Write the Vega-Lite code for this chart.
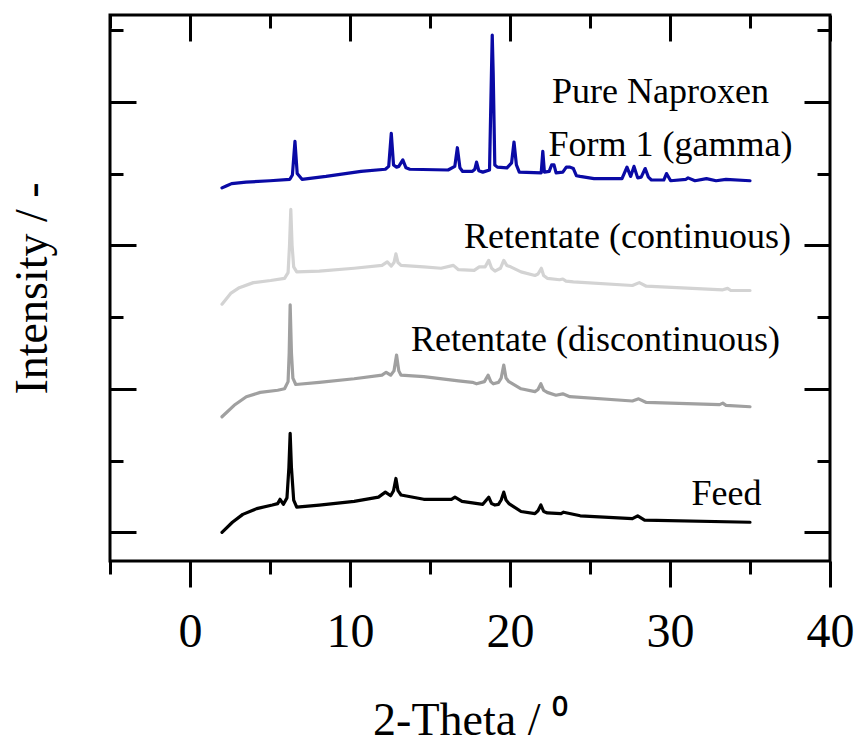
{
  "$schema": "https://vega.github.io/schema/vega-lite/v6.json",
  "width": 720,
  "height": 546,
  "autosize": {"type": "none"},
  "padding": {"left": 110, "top": 15, "right": 24, "bottom": 186},
  "background": "white",
  "datasets": {
    "lines": [
      {"s":"Pure Naproxen","t":2.0,"i":4.80},{"s":"Pure Naproxen","t":2.3,"i":4.83},{"s":"Pure Naproxen","t":2.6,"i":4.86},{"s":"Pure Naproxen","t":3.5,"i":4.88},{"s":"Pure Naproxen","t":5.0,"i":4.90},{"s":"Pure Naproxen","t":6.24,"i":4.92},{"s":"Pure Naproxen","t":6.40,"i":4.98},{"s":"Pure Naproxen","t":6.56,"i":5.45},{"s":"Pure Naproxen","t":6.70,"i":5.0},{"s":"Pure Naproxen","t":7.0,"i":4.92},{"s":"Pure Naproxen","t":8.5,"i":4.96},{"s":"Pure Naproxen","t":10.69,"i":5.03},{"s":"Pure Naproxen","t":12.21,"i":5.06},{"s":"Pure Naproxen","t":12.42,"i":5.10},{"s":"Pure Naproxen","t":12.58,"i":5.56},{"s":"Pure Naproxen","t":12.72,"i":5.12},{"s":"Pure Naproxen","t":12.91,"i":5.09},{"s":"Pure Naproxen","t":13.05,"i":5.10},{"s":"Pure Naproxen","t":13.30,"i":5.19},{"s":"Pure Naproxen","t":13.50,"i":5.08},{"s":"Pure Naproxen","t":13.74,"i":5.06},{"s":"Pure Naproxen","t":16.13,"i":5.05},{"s":"Pure Naproxen","t":16.55,"i":5.10},{"s":"Pure Naproxen","t":16.71,"i":5.36},{"s":"Pure Naproxen","t":16.87,"i":5.08},{"s":"Pure Naproxen","t":17.04,"i":5.03},{"s":"Pure Naproxen","t":17.65,"i":5.03},{"s":"Pure Naproxen","t":17.80,"i":5.06},{"s":"Pure Naproxen","t":17.91,"i":5.16},{"s":"Pure Naproxen","t":18.05,"i":5.04},{"s":"Pure Naproxen","t":18.30,"i":5.02},{"s":"Pure Naproxen","t":18.72,"i":5.05},{"s":"Pure Naproxen","t":18.84,"i":6.4},{"s":"Pure Naproxen","t":18.89,"i":6.93},{"s":"Pure Naproxen","t":18.95,"i":6.4},{"s":"Pure Naproxen","t":19.05,"i":5.12},{"s":"Pure Naproxen","t":19.21,"i":5.09},{"s":"Pure Naproxen","t":19.81,"i":5.08},{"s":"Pure Naproxen","t":20.10,"i":5.15},{"s":"Pure Naproxen","t":20.25,"i":5.44},{"s":"Pure Naproxen","t":20.40,"i":5.12},{"s":"Pure Naproxen","t":20.58,"i":5.02},{"s":"Pure Naproxen","t":21.95,"i":5.01},{"s":"Pure Naproxen","t":22.05,"i":5.31},{"s":"Pure Naproxen","t":22.15,"i":5.02},{"s":"Pure Naproxen","t":22.45,"i":5.03},{"s":"Pure Naproxen","t":22.6,"i":5.12},{"s":"Pure Naproxen","t":22.75,"i":5.12},{"s":"Pure Naproxen","t":22.88,"i":5.01},{"s":"Pure Naproxen","t":23.3,"i":5.02},{"s":"Pure Naproxen","t":23.52,"i":5.09},{"s":"Pure Naproxen","t":23.75,"i":5.09},{"s":"Pure Naproxen","t":23.96,"i":5.07},{"s":"Pure Naproxen","t":24.15,"i":4.97},{"s":"Pure Naproxen","t":24.38,"i":4.96},{"s":"Pure Naproxen","t":25.25,"i":4.93},{"s":"Pure Naproxen","t":27.0,"i":4.93},{"s":"Pure Naproxen","t":27.31,"i":5.09},{"s":"Pure Naproxen","t":27.54,"i":4.96},{"s":"Pure Naproxen","t":27.75,"i":5.10},{"s":"Pure Naproxen","t":27.98,"i":4.94},{"s":"Pure Naproxen","t":28.2,"i":4.95},{"s":"Pure Naproxen","t":28.45,"i":5.07},{"s":"Pure Naproxen","t":28.65,"i":4.95},{"s":"Pure Naproxen","t":28.84,"i":4.91},{"s":"Pure Naproxen","t":29.61,"i":4.91},{"s":"Pure Naproxen","t":29.78,"i":5.00},{"s":"Pure Naproxen","t":30.04,"i":4.90},{"s":"Pure Naproxen","t":31.0,"i":4.92},{"s":"Pure Naproxen","t":31.13,"i":4.94},{"s":"Pure Naproxen","t":31.56,"i":4.90},{"s":"Pure Naproxen","t":32.28,"i":4.93},{"s":"Pure Naproxen","t":32.88,"i":4.90},{"s":"Pure Naproxen","t":33.5,"i":4.92},{"s":"Pure Naproxen","t":35.0,"i":4.90},
      {"s":"Retentate (continuous)","t":2.0,"i":3.18},{"s":"Retentate (continuous)","t":2.54,"i":3.33},{"s":"Retentate (continuous)","t":3.08,"i":3.41},{"s":"Retentate (continuous)","t":3.96,"i":3.48},{"s":"Retentate (continuous)","t":5.04,"i":3.51},{"s":"Retentate (continuous)","t":5.91,"i":3.54},{"s":"Retentate (continuous)","t":6.13,"i":3.62},{"s":"Retentate (continuous)","t":6.22,"i":4.0},{"s":"Retentate (continuous)","t":6.30,"i":4.50},{"s":"Retentate (continuous)","t":6.38,"i":4.0},{"s":"Retentate (continuous)","t":6.48,"i":3.70},{"s":"Retentate (continuous)","t":6.67,"i":3.63},{"s":"Retentate (continuous)","t":8.08,"i":3.64},{"s":"Retentate (continuous)","t":10.26,"i":3.68},{"s":"Retentate (continuous)","t":12.0,"i":3.72},{"s":"Retentate (continuous)","t":12.33,"i":3.77},{"s":"Retentate (continuous)","t":12.58,"i":3.71},{"s":"Retentate (continuous)","t":12.75,"i":3.76},{"s":"Retentate (continuous)","t":12.87,"i":3.88},{"s":"Retentate (continuous)","t":13.0,"i":3.76},{"s":"Retentate (continuous)","t":13.19,"i":3.72},{"s":"Retentate (continuous)","t":14.61,"i":3.70},{"s":"Retentate (continuous)","t":15.69,"i":3.68},{"s":"Retentate (continuous)","t":16.46,"i":3.72},{"s":"Retentate (continuous)","t":16.78,"i":3.66},{"s":"Retentate (continuous)","t":17.76,"i":3.65},{"s":"Retentate (continuous)","t":18.08,"i":3.70},{"s":"Retentate (continuous)","t":18.45,"i":3.70},{"s":"Retentate (continuous)","t":18.67,"i":3.79},{"s":"Retentate (continuous)","t":18.85,"i":3.68},{"s":"Retentate (continuous)","t":19.06,"i":3.64},{"s":"Retentate (continuous)","t":19.4,"i":3.68},{"s":"Retentate (continuous)","t":19.61,"i":3.79},{"s":"Retentate (continuous)","t":19.8,"i":3.72},{"s":"Retentate (continuous)","t":20.04,"i":3.70},{"s":"Retentate (continuous)","t":20.69,"i":3.63},{"s":"Retentate (continuous)","t":21.56,"i":3.58},{"s":"Retentate (continuous)","t":21.75,"i":3.60},{"s":"Retentate (continuous)","t":21.96,"i":3.68},{"s":"Retentate (continuous)","t":22.1,"i":3.58},{"s":"Retentate (continuous)","t":22.33,"i":3.54},{"s":"Retentate (continuous)","t":23.1,"i":3.52},{"s":"Retentate (continuous)","t":23.30,"i":3.53},{"s":"Retentate (continuous)","t":23.5,"i":3.50},{"s":"Retentate (continuous)","t":23.96,"i":3.49},{"s":"Retentate (continuous)","t":27.65,"i":3.44},{"s":"Retentate (continuous)","t":28.08,"i":3.48},{"s":"Retentate (continuous)","t":28.52,"i":3.43},{"s":"Retentate (continuous)","t":33.3,"i":3.38},{"s":"Retentate (continuous)","t":33.6,"i":3.40},{"s":"Retentate (continuous)","t":33.8,"i":3.37},{"s":"Retentate (continuous)","t":35.0,"i":3.37},
      {"s":"Retentate (discontinuous)","t":2.0,"i":1.61},{"s":"Retentate (discontinuous)","t":2.76,"i":1.77},{"s":"Retentate (discontinuous)","t":3.52,"i":1.89},{"s":"Retentate (discontinuous)","t":4.39,"i":1.95},{"s":"Retentate (discontinuous)","t":5.48,"i":1.98},{"s":"Retentate (discontinuous)","t":5.91,"i":2.00},{"s":"Retentate (discontinuous)","t":6.13,"i":2.10},{"s":"Retentate (discontinuous)","t":6.20,"i":2.5},{"s":"Retentate (discontinuous)","t":6.26,"i":3.17},{"s":"Retentate (discontinuous)","t":6.34,"i":2.5},{"s":"Retentate (discontinuous)","t":6.43,"i":2.15},{"s":"Retentate (discontinuous)","t":6.61,"i":2.06},{"s":"Retentate (discontinuous)","t":8.08,"i":2.09},{"s":"Retentate (discontinuous)","t":10.26,"i":2.14},{"s":"Retentate (discontinuous)","t":12.0,"i":2.19},{"s":"Retentate (discontinuous)","t":12.26,"i":2.23},{"s":"Retentate (discontinuous)","t":12.54,"i":2.19},{"s":"Retentate (discontinuous)","t":12.75,"i":2.25},{"s":"Retentate (discontinuous)","t":12.91,"i":2.47},{"s":"Retentate (discontinuous)","t":13.05,"i":2.25},{"s":"Retentate (discontinuous)","t":13.19,"i":2.19},{"s":"Retentate (discontinuous)","t":14.61,"i":2.17},{"s":"Retentate (discontinuous)","t":16.78,"i":2.11},{"s":"Retentate (discontinuous)","t":17.65,"i":2.09},{"s":"Retentate (discontinuous)","t":17.91,"i":2.07},{"s":"Retentate (discontinuous)","t":18.4,"i":2.10},{"s":"Retentate (discontinuous)","t":18.63,"i":2.19},{"s":"Retentate (discontinuous)","t":18.8,"i":2.10},{"s":"Retentate (discontinuous)","t":18.96,"i":2.07},{"s":"Retentate (discontinuous)","t":19.28,"i":2.09},{"s":"Retentate (discontinuous)","t":19.45,"i":2.15},{"s":"Retentate (discontinuous)","t":19.61,"i":2.33},{"s":"Retentate (discontinuous)","t":19.75,"i":2.15},{"s":"Retentate (discontinuous)","t":19.93,"i":2.10},{"s":"Retentate (discontinuous)","t":20.69,"i":2.00},{"s":"Retentate (discontinuous)","t":21.56,"i":1.96},{"s":"Retentate (discontinuous)","t":21.75,"i":1.99},{"s":"Retentate (discontinuous)","t":21.93,"i":2.07},{"s":"Retentate (discontinuous)","t":22.1,"i":1.98},{"s":"Retentate (discontinuous)","t":22.33,"i":1.95},{"s":"Retentate (discontinuous)","t":22.87,"i":1.91},{"s":"Retentate (discontinuous)","t":23.30,"i":1.93},{"s":"Retentate (discontinuous)","t":23.74,"i":1.89},{"s":"Retentate (discontinuous)","t":27.65,"i":1.83},{"s":"Retentate (discontinuous)","t":28.04,"i":1.86},{"s":"Retentate (discontinuous)","t":28.52,"i":1.81},{"s":"Retentate (discontinuous)","t":33.1,"i":1.78},{"s":"Retentate (discontinuous)","t":33.3,"i":1.80},{"s":"Retentate (discontinuous)","t":33.5,"i":1.77},{"s":"Retentate (discontinuous)","t":35.0,"i":1.75},
      {"s":"Feed","t":2.0,"i":0.0},{"s":"Feed","t":2.65,"i":0.14},{"s":"Feed","t":3.30,"i":0.25},{"s":"Feed","t":4.17,"i":0.33},{"s":"Feed","t":5.15,"i":0.38},{"s":"Feed","t":5.48,"i":0.40},{"s":"Feed","t":5.63,"i":0.46},{"s":"Feed","t":5.84,"i":0.39},{"s":"Feed","t":6.06,"i":0.48},{"s":"Feed","t":6.18,"i":0.9},{"s":"Feed","t":6.26,"i":1.38},{"s":"Feed","t":6.34,"i":0.9},{"s":"Feed","t":6.48,"i":0.45},{"s":"Feed","t":6.67,"i":0.35},{"s":"Feed","t":8.08,"i":0.38},{"s":"Feed","t":10.26,"i":0.43},{"s":"Feed","t":11.78,"i":0.49},{"s":"Feed","t":12.21,"i":0.56},{"s":"Feed","t":12.54,"i":0.51},{"s":"Feed","t":12.72,"i":0.58},{"s":"Feed","t":12.87,"i":0.75},{"s":"Feed","t":13.0,"i":0.58},{"s":"Feed","t":13.19,"i":0.52},{"s":"Feed","t":14.61,"i":0.46},{"s":"Feed","t":16.34,"i":0.46},{"s":"Feed","t":16.56,"i":0.49},{"s":"Feed","t":17.0,"i":0.43},{"s":"Feed","t":18.30,"i":0.39},{"s":"Feed","t":18.67,"i":0.49},{"s":"Feed","t":18.85,"i":0.40},{"s":"Feed","t":19.06,"i":0.38},{"s":"Feed","t":19.28,"i":0.39},{"s":"Feed","t":19.45,"i":0.45},{"s":"Feed","t":19.61,"i":0.56},{"s":"Feed","t":19.75,"i":0.45},{"s":"Feed","t":19.93,"i":0.40},{"s":"Feed","t":20.69,"i":0.29},{"s":"Feed","t":21.56,"i":0.26},{"s":"Feed","t":21.75,"i":0.30},{"s":"Feed","t":21.93,"i":0.38},{"s":"Feed","t":22.1,"i":0.29},{"s":"Feed","t":22.33,"i":0.27},{"s":"Feed","t":23.19,"i":0.26},{"s":"Feed","t":23.35,"i":0.28},{"s":"Feed","t":24.39,"i":0.23},{"s":"Feed","t":27.65,"i":0.19},{"s":"Feed","t":27.98,"i":0.23},{"s":"Feed","t":28.41,"i":0.17},{"s":"Feed","t":35.0,"i":0.14}
    ],
    "labels": [
      {"t":29.41,"i":6.14,"label":"Pure Naproxen"},
      {"t":30.03,"i":5.40,"label":"Form 1 (gamma)"},
      {"t":27.34,"i":4.11,"label":"Retentate (continuous)"},
      {"t":25.34,"i":2.68,"label":"Retentate (discontinuous)"},
      {"t":33.53,"i":0.53,"label":"Feed"}
    ]
  },
  "layer": [
    {
      "data": {"name": "lines"},
      "mark": {"type": "line", "strokeWidth": 3.2, "strokeJoin": "round", "strokeCap": "round"},
      "encoding": {
        "x": {"field": "t", "type": "quantitative",
          "scale": {"domain": [-5, 40], "nice": false, "zero": false},
          "axis": {"orient": "bottom", "values": [0, 10, 20, 30, 40], "tickSize": 26, "labelFontSize": 48, "labelPadding": 21, "labelFlush": false, "labelBound": false, "labelOverlap": false, "title": "2-Theta / ⁰", "titleFontSize": 46, "titlePadding": 42}},
        "y": {"field": "i", "type": "quantitative",
          "scale": {"domain": [-0.4, 7.21], "nice": false, "zero": false},
          "axis": {"orient": "left", "values": [0, 2, 4, 6], "tickSize": -26, "labels": false, "title": "Intensity / -", "titleFontSize": 46, "titlePadding": 52}},
        "color": {"field": "s", "type": "nominal", "legend": null,
          "scale": {"domain": ["Pure Naproxen", "Retentate (continuous)", "Retentate (discontinuous)", "Feed"], "range": ["#0a0aa5", "#d3d3d3", "#a0a0a0", "#000000"]}}
      }
    },
    {
      "data": {"name": "labels"},
      "mark": {"type": "text", "fontSize": 36, "align": "center", "baseline": "middle", "color": "black", "font": "Liberation Serif"},
      "encoding": {
        "x": {"field": "t", "type": "quantitative", "axis": {"orient": "bottom", "values": [-5, 5, 15, 25, 35], "tickSize": 13, "labels": false, "title": null}},
        "y": {"field": "i", "type": "quantitative", "axis": {"orient": "left", "values": [1, 3, 5, 7], "tickSize": -13, "labels": false, "title": null}},
        "text": {"field": "label"}
      }
    },
    {
      "data": {"name": "labels"},
      "mark": {"type": "point", "opacity": 0},
      "encoding": {
        "x": {"field": "t", "type": "quantitative", "axis": {"orient": "top", "values": [0, 10, 20, 30, 40], "tickSize": -26, "labels": false, "title": null}},
        "y": {"field": "i", "type": "quantitative", "axis": {"orient": "right", "values": [0, 2, 4, 6], "tickSize": -26, "labels": false, "title": null}}
      }
    },
    {
      "data": {"name": "labels"},
      "mark": {"type": "point", "opacity": 0},
      "encoding": {
        "x": {"field": "t", "type": "quantitative", "axis": {"orient": "top", "values": [-5, 5, 15, 25, 35], "tickSize": -13, "labels": false, "title": null}},
        "y": {"field": "i", "type": "quantitative", "axis": {"orient": "right", "values": [1, 3, 5, 7], "tickSize": -13, "labels": false, "title": null}}
      }
    }
  ],
  "resolve": {"axis": {"x": "independent", "y": "independent"}},
  "config": {
    "view": {"stroke": "black", "strokeWidth": 3},
    "axis": {"domain": false, "grid": false, "tickColor": "black", "tickWidth": 3, "labelColor": "black", "titleColor": "black", "labelFont": "Liberation Serif", "titleFont": "Liberation Serif", "titleFontWeight": "normal"},
    "text": {"font": "Liberation Serif"}
  }
}
